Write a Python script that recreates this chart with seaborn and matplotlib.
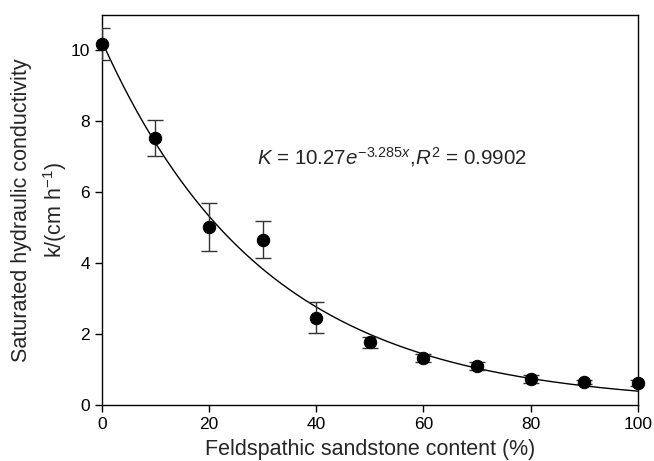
import numpy as np
import pandas as pd
import matplotlib
matplotlib.use("Agg")
import matplotlib.pyplot as plt
import seaborn as sns

content = [0, 10, 20, 30, 40, 50, 60, 70, 80, 90, 100]
conductivity = [10.18, 7.53, 5.01, 4.66, 2.46, 1.76, 1.31, 1.09, 0.72, 0.64, 0.62]
err = [0.46, 0.50, 0.68, 0.52, 0.43, 0.15, 0.11, 0.11, 0.12, 0.06, 0.08]
fit_a = 10.27
fit_b = -3.285

sns.set_theme(style="ticks")
plt.rcParams['font.family'] = ['Liberation Sans', 'DejaVu Sans']
plt.rcParams['mathtext.fontset'] = 'custom'
plt.rcParams['mathtext.rm'] = 'Liberation Sans'
plt.rcParams['mathtext.it'] = 'Liberation Sans:italic'
plt.rcParams['mathtext.bf'] = 'Liberation Sans:bold'

df = pd.DataFrame({"x": content, "y": conductivity, "e": err})
xs = np.linspace(0, 100, 300)
curve = pd.DataFrame({"x": xs, "y": fit_a * np.exp(fit_b * xs / 100)})

fig = plt.figure(figsize=(6.54, 4.61), dpi=100)
ax = fig.add_axes([0.1555, 0.122, 0.82, 0.8455])

sns.lineplot(data=curve, x="x", y="y", color="black", lw=1.0, ax=ax, zorder=2)
ax.errorbar(df["x"], df["y"], yerr=df["e"], fmt="none", ecolor="#333333",
            elinewidth=1.0, capsize=6, capthick=1.0, zorder=3)
sns.scatterplot(data=df, x="x", y="y", color="black", s=80, edgecolor="black",
                ax=ax, zorder=4, clip_on=False)

ax.set_xlim(0, 100)
ax.set_ylim(0, 11)
ax.set_xticks([0, 20, 40, 60, 80, 100])
ax.set_yticks([0, 2, 4, 6, 8, 10])
ax.tick_params(direction="out", length=5, width=1, labelsize=12.5, colors="black")
for s in ax.spines.values():
    s.set_color("black")
    s.set_linewidth(1.0)
ax.set_xlabel("Feldspathic sandstone content (%)", fontsize=15.5, labelpad=5)
ax.set_ylabel("Saturated hydraulic conductivity\nk/(cm h$^{-1}$)", fontsize=15.5,
              labelpad=1, linespacing=1.45)

ax.text(28.9, 6.98, r"$K$ = 10.27$e^{-3.285x}$,$R^2$ = 0.9902", fontsize=14.8,
        va="center", ha="left")

fig.savefig("out.png", dpi=100)
